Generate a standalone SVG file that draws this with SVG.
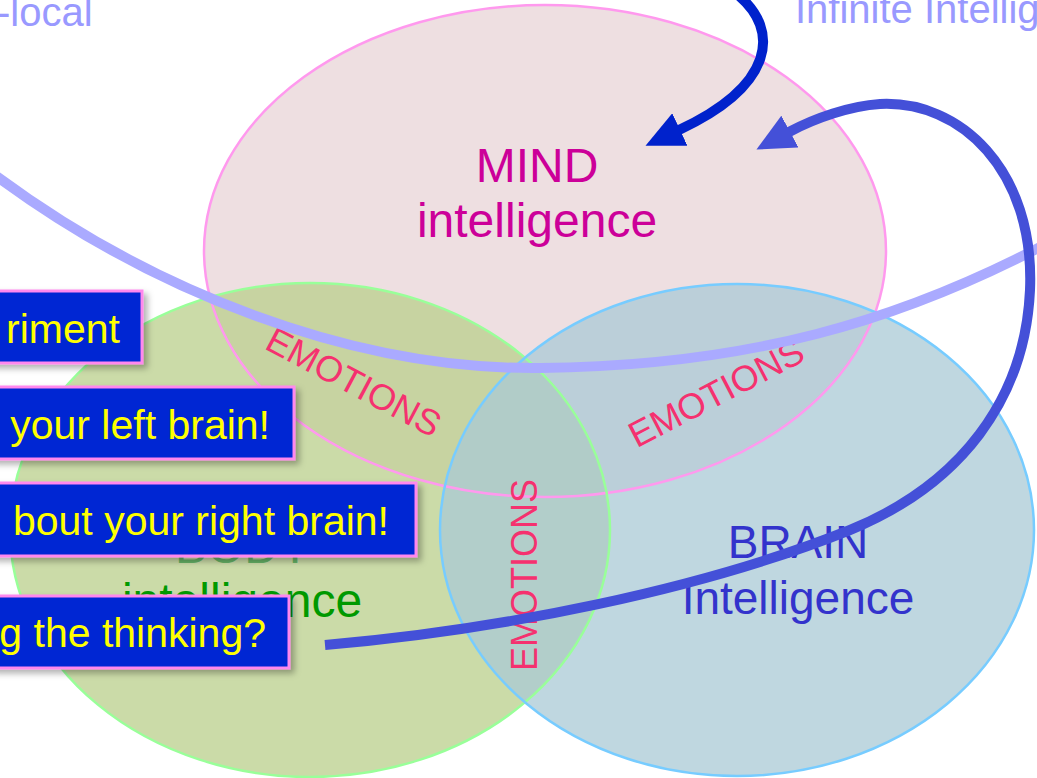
<svg xmlns="http://www.w3.org/2000/svg" width="1037" height="778" viewBox="0 0 1037 778">
<defs>
<style>
text{font-family:"Liberation Sans",Arial,sans-serif}
.fill{fill-opacity:0.75;stroke:none}
.edge{fill:none;stroke-width:2.5}
.top{fill:#9999ff;font-size:40px}
.emo{fill:#f5316f;font-size:36px;text-anchor:middle}
.box rect{fill:#0026d3;stroke:#ff88ee;stroke-width:3;filter:url(#sh)}
.box text{fill:#ffff00;font-size:41px;text-anchor:end}
.conn{fill:none;stroke-width:10}
</style>
<filter id="sh" x="-10%" y="-20%" width="130%" height="160%">
<feDropShadow dx="4" dy="4" stdDeviation="3" flood-color="#000" flood-opacity="0.3"/>
</filter>
<marker id="ah1" markerUnits="userSpaceOnUse" viewBox="0 0 38 36" markerWidth="38" markerHeight="36" refX="1" refY="18" orient="auto"><path d="M0,0 L38,18 L0,36 z" fill="#0022cc"/></marker>
<marker id="ah2" markerUnits="userSpaceOnUse" viewBox="0 0 38 36" markerWidth="38" markerHeight="36" refX="1" refY="18" orient="auto"><path d="M0,0 L38,18 L0,36 z" fill="#4450d8"/></marker>
</defs>
<rect width="1037" height="778" fill="#fff"/>
<text class="top" x="-3" y="26">-local</text>
<text class="top" x="795" y="23">Infinite Intellig</text>
<g id="mind">
<ellipse class="fill" cx="545" cy="251" rx="341" ry="246" fill="#e8d4d7"/>
</g>
<g id="body">
<ellipse class="fill" cx="310" cy="530" rx="300" ry="247" fill="#bacf8b"/>
</g>
<g id="brain">
<ellipse class="fill" cx="737" cy="530" rx="297" ry="246" fill="#aacad6"/>
</g>
<g id="edges">
<ellipse class="edge" cx="545" cy="251" rx="341" ry="246" stroke="#ff99ee"/>
<ellipse class="edge" cx="310" cy="530" rx="300" ry="247" stroke="#99ff99"/>
<ellipse class="edge" cx="737" cy="530" rx="297" ry="246" stroke="#77ccff"/>
</g>
<g id="mind-label" style="text-anchor:middle;font-size:48px;fill:#cc0099">
<text x="537" y="182">MIND</text>
<text x="537" y="237">intelligence</text>
</g>
<g id="body-label" style="text-anchor:middle;font-size:48px">
<text x="243" y="563" fill="#66b266">BODY</text>
<text x="242" y="617" fill="#009900">intelligence</text>
</g>
<g id="brain-label" style="text-anchor:middle;font-size:46px;fill:#3333cc">
<text x="798" y="558">BRAIN</text>
<text x="798" y="614">Intelligence</text>
</g>
<g id="emotions">
<text class="emo" transform="translate(348,393) rotate(28)">EMOTIONS</text>
<text class="emo" transform="translate(537,575) rotate(-90)">EMOTIONS</text>
<text class="emo" transform="translate(722,404) rotate(-27.5)">EMOTIONS</text>
</g>
<g id="boxes" class="box">
<g id="box1"><rect x="-10" y="291" width="152" height="72"/><text x="120" y="343">riment</text></g>
<g id="box2"><rect x="-10" y="387" width="304" height="72"/><text x="270" y="439">your left brain!</text></g>
<g id="box3"><rect x="-10" y="483" width="426" height="73"/><text x="389" y="535">bout your right brain!</text></g>
<g id="box4"><rect x="-10" y="596" width="299" height="72"/><text x="266" y="647">g the thinking?</text></g>
</g>
<g id="connectors">
<path class="conn" stroke="#aaaaff" d="M -5,175 C 150,290 350,370 540,368 C 750,366 900,320 1042,246"/>
<path class="conn" stroke="#0022cc" d="M 738,-5 C 780,30 775,85 679,130" marker-end="url(#ah1)"/>
<path class="conn" stroke="#4450d8" stroke-width="9" d="M 325,645 C 500,630 700,590 850,530 C 960,485 1025,400 1030,290 C 1035,170 960,100 880,104 C 850,106 815,118 789,132" marker-end="url(#ah2)"/>
</g>
</svg>
